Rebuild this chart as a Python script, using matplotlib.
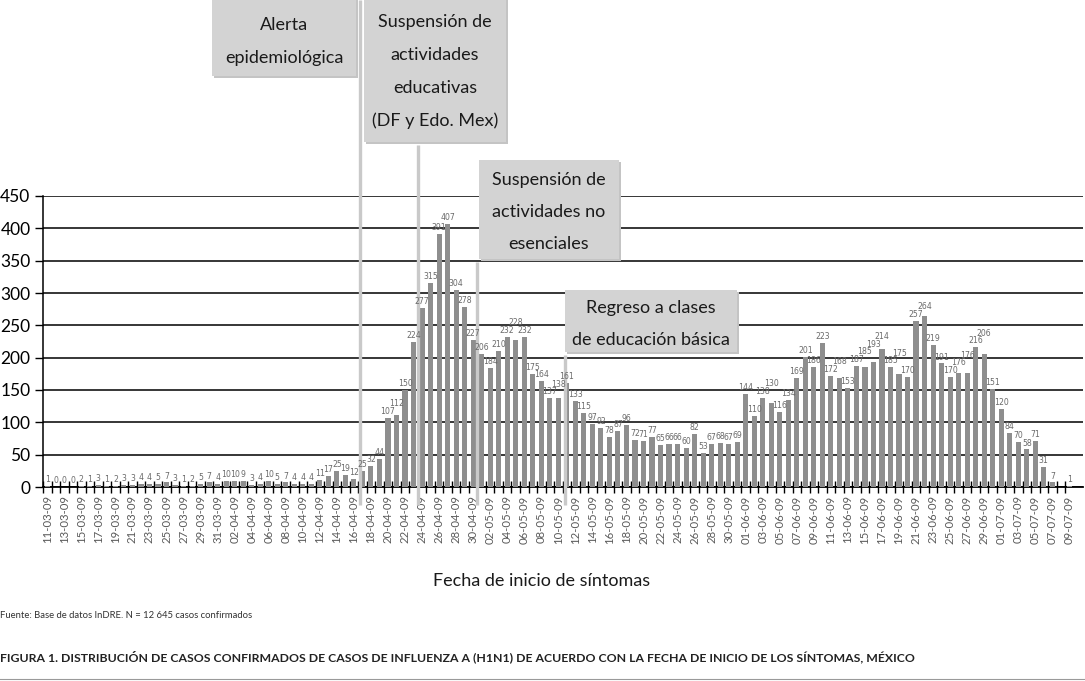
import matplotlib
matplotlib.use('Agg')
import matplotlib.pyplot as plt
from matplotlib.patches import Rectangle
from matplotlib.transforms import blended_transform_factory
import numpy as np
import pandas as pd

# ---------------- data ----------------
start_date = '2009-03-11'
end_date = '2009-07-09'
cases = [1, 0, 0, 0, 2, 1, 3, 1, 2, 3,
         3, 4, 4, 5, 7, 3, 1, 2, 5, 7,
         4, 10, 10, 9, 3, 4, 10, 5, 7, 4,
         4, 4, 11, 17, 25, 19, 12, 25, 32, 44,
         107, 112, 150, 224, 277, 315, 391, 407, 304, 278,
         227, 206, 184, 210, 232, 228, 232, 175, 164, 137,
         138, 161, 133, 115, 97, 92, 78, 87, 96, 72,
         71, 77, 65, 66, 66, 60, 82, 53, 67, 68,
         67, 69, 144, 110, 138, 130, 116, 134, 169, 201,
         186, 223, 172, 168, 153, 187, 185, 193, 214, 185,
         175, 170, 257, 264, 219, 191, 170, 176, 176, 216,
         206, 151, 120, 84, 70, 58, 71, 31, 7, None,
         1]
dates = pd.date_range(start_date, end_date, freq='D')
date_labels = [d.strftime('%d-%m-%y') for d in dates]

y_ticks = [0, 50, 100, 150, 200, 250, 300, 350, 400, 450]

# events (position in days from start)
event_alerta = 36.7
event_educ = 43.55
event_noesen = 50.5
event_regreso = 60.75

xlabel = 'Fecha de inicio de síntomas'
source = 'Fuente: Base de datos InDRE. N = 12 645 casos confirmados'
caption = ('FIGURA 1. DISTRIBUCIÓN DE CASOS CONFIRMADOS DE CASOS DE INFLUENZA A (H1N1) '
           'DE ACUERDO CON LA FECHA DE INICIO DE LOS SÍNTOMAS, MÉXICO')

# ---------------- figure ----------------
W, H = 1085, 681
plt.rcParams['font.family'] = ['Lato', 'DejaVu Sans']
fig = plt.figure(figsize=(W / 100, H / 100), dpi=100)


def fx(px):
    return px / W


def fy(py):
    return 1 - py / H


ax = fig.add_axes([fx(43), fy(487), fx(1083) - fx(43), fy(196) - fy(487)])
x = np.arange(len(cases))
heights = [np.nan if v is None else v for v in cases]
ax.bar(x, heights, width=0.6, color='#8e8e8e', zorder=3)

# value labels, staggered when two wide labels sit side by side at similar height
prev_y, prev_len = None, 0
for xi, v in zip(x, cases):
    if v is None:
        prev_y, prev_len = None, 0
        continue
    s = str(v)
    y = v + 3
    if prev_y is not None and len(s) + prev_len >= 6 and abs(y - prev_y) < 11:
        y = prev_y + 12
    ax.text(xi, y, s, ha='center', va='bottom', fontsize=5.6,
            family=['Liberation Sans Narrow', 'DejaVu Sans'],
            color='#6a6a6a', zorder=7)
    prev_y, prev_len = y, len(s)

ax.set_xlim(-0.47, 121.6)
ax.set_ylim(0, 450)
ax.set_yticks(y_ticks)
ax.set_yticklabels([str(t) for t in y_ticks])
ax.yaxis.grid(True, color='black', lw=1.1, zorder=1)
ax.set_axisbelow(True)
for s in ['top', 'right']:
    ax.spines[s].set_visible(False)
ax.spines['left'].set_color('black')
ax.spines['bottom'].set_color('black')
ax.spines['left'].set_linewidth(1.1)
ax.spines['bottom'].set_linewidth(1.3)
ax.tick_params(axis='y', length=6, width=1, labelsize=12.5, pad=3, colors='black')

ax.set_xticks(x[::2])
ax.set_xticklabels(date_labels[::2], rotation=90, fontsize=8.2, color='#5a5a5a')
ax.set_xticks(np.arange(len(cases)) - 0.5, minor=True)
ax.tick_params(axis='x', which='major', length=0, pad=6)
ax.tick_params(axis='x', which='minor', length=8, width=1.0, direction='inout',
               color='black')

# event lines
tr = blended_transform_factory(ax.transData, fig.transFigure)
line_col = '#c9c9c9'
for xe, top in [(event_alerta, 0), (event_educ, 145), (event_noesen, 262),
                (event_regreso, 355)]:
    ax.plot([xe, xe], [fy(505), fy(top)], transform=tr, color=line_col, lw=2.4,
            clip_on=False, zorder=6, solid_capstyle='butt')

# annotation boxes (pixel layout)
box_face = '#d3d3d3'
shadow = '#c4c4c4'


def box(x0, y0, x1, y1, text, ys):
    fig.add_artist(Rectangle((fx(x0 + 2), fy(y1 + 2)), fx(x1) - fx(x0),
                             fy(y0) - fy(y1), transform=fig.transFigure,
                             facecolor=shadow, edgecolor='none', zorder=7))
    fig.add_artist(Rectangle((fx(x0), fy(y1)), fx(x1) - fx(x0), fy(y0) - fy(y1),
                             transform=fig.transFigure, facecolor=box_face,
                             edgecolor='none', zorder=8))
    for line, yy in zip(text.split('\n'), ys):
        fig.text(fx((x0 + x1) / 2), fy(yy), line, ha='center', va='center',
                 fontsize=13, color='#1a1a1a', zorder=9)


box(212, -5, 356, 76, 'Alerta\nepidemiológica', [25, 58])
box(364, -5, 506, 142, 'Suspensión de\nactividades\neducativas\n(DF y Edo. Mex)',
    [22, 55, 88, 121])
box(479, 160, 619, 259, 'Suspensión de\nactividades no\nesenciales',
    [180, 212, 244])
box(565, 290, 737, 352, 'Regreso a clases\nde educación básica', [308, 340])

fig.text(fx(542), fy(581), xlabel, ha='center', va='center', fontsize=13,
         color='#1a1a1a')
fig.text(fx(0), fy(616), source, ha='left', va='center', fontsize=6.8,
         color='#333333')
fig.text(fx(0), fy(657), caption, ha='left', va='center', fontsize=8.8,
         fontweight='bold', color='#222222')
fig.add_artist(plt.Line2D([0, 1], [fy(679), fy(679)], transform=fig.transFigure,
                          color='#9a9a9a', lw=0.8))

fig.savefig('out.png', dpi=100)
